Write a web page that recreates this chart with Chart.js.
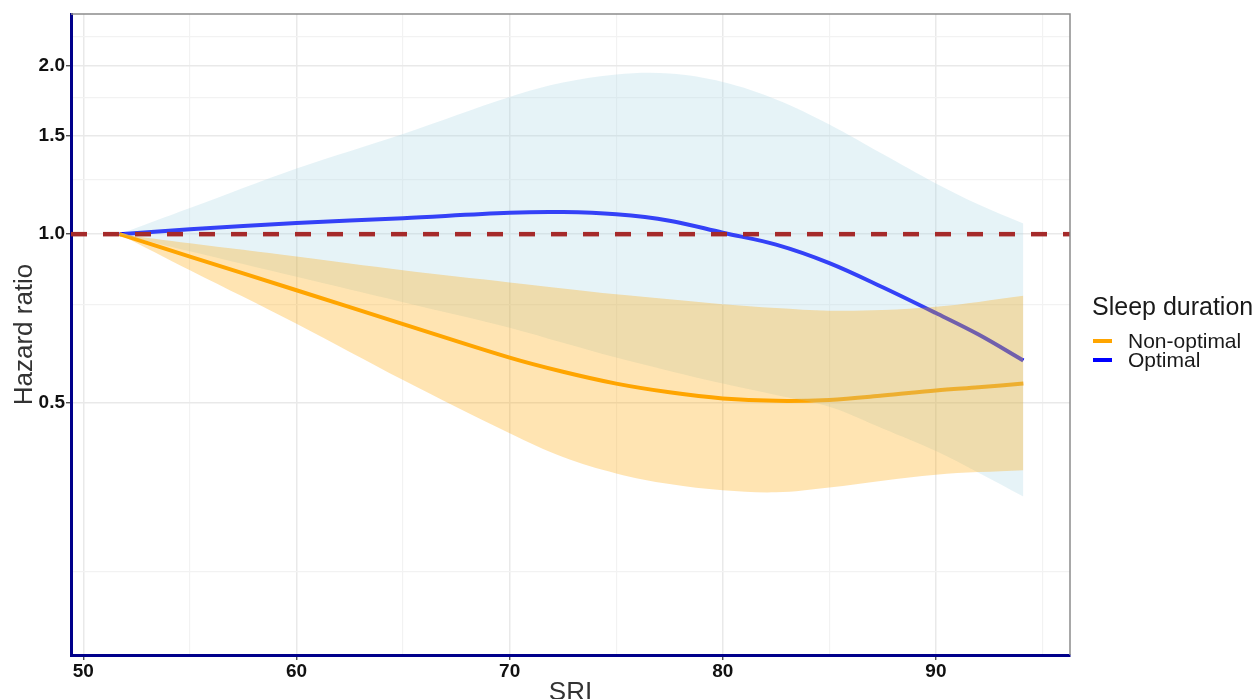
<!DOCTYPE html>
<html>
<head>
<meta charset="utf-8">
<script src="https://cdn.jsdelivr.net/npm/chart.js@4.4.1/dist/chart.umd.min.js"></script>
<style>
  html, body { margin: 0; padding: 0; background: #ffffff; overflow: hidden; }
  #wrap { width: 1257px; height: 699px; position: relative; }
</style>
</head>
<body>
<div id="wrap"><canvas id="c" width="1257" height="699"></canvas></div>
<script>
// SRI grid shared by every curve
const sri = [51.7, 55, 60, 65, 70, 72.5, 75, 77.5, 80, 82.5, 85, 87.5, 90, 92, 94.1];

// Optimal sleep duration: hazard ratio and 95% CI
const optimalHR    = [1.000, 1.020, 1.047, 1.068, 1.092, 1.095, 1.085, 1.057, 1.006, 0.958, 0.888, 0.804, 0.723, 0.662, 0.595];
const optimalUpper = [1.000, 1.113, 1.310, 1.510, 1.758, 1.865, 1.928, 1.935, 1.869, 1.740, 1.570, 1.390, 1.232, 1.130, 1.045];
const optimalLower = [1.000, 0.932, 0.839, 0.756, 0.681, 0.640, 0.602, 0.570, 0.541, 0.516, 0.492, 0.450, 0.410, 0.375, 0.340];

// Non-optimal sleep duration: hazard ratio and 95% CI
const nonOptHR     = [1.000, 0.912, 0.794, 0.691, 0.602, 0.568, 0.541, 0.522, 0.509, 0.504, 0.506, 0.515, 0.526, 0.533, 0.541];
const nonOptUpper  = [1.000, 0.963, 0.912, 0.862, 0.820, 0.800, 0.781, 0.765, 0.750, 0.738, 0.730, 0.732, 0.742, 0.757, 0.776];
const nonOptLower  = [1.000, 0.862, 0.692, 0.549, 0.441, 0.400, 0.374, 0.358, 0.349, 0.346, 0.353, 0.363, 0.372, 0.376, 0.379];

// Reference line HR = 1 across the whole x range
const refX = [49.42, 96.29];
const refY = [1, 1];

// Axis breaks
const xMajorTicks = [50, 60, 70, 80, 90];
const xMinorTicks = [55, 65, 75, 85, 95];
const yMajorTicks = [0.5, 1.0, 1.5, 2.0];
const yMinorTicks = [0.25, 0.75, 1.25, 1.75, 2.25];

const seriesNames = ['Non-optimal', 'Optimal'];
const legendTitle = 'Sleep duration';

const ORANGE = '#ffa500';
const BLUE = '#0000ff';
const FONT = '"Liberation Sans", Arial, Helvetica, sans-serif';
const SMOOTH = 0.35;

const pts = (xs, ys) => xs.map((x, i) => ({ x: x, y: ys[i] }));
const near = (list, v) => list.some(t => Math.abs(t - v) < 1e-6);

const bandBase = {
  pointRadius: 0,
  borderWidth: 0,
  borderColor: 'rgba(0,0,0,0)',
  tension: SMOOTH
};

const datasets = [
  { // 0 reference line (top-most)
    label: 'ref', data: pts(refX, refY), order: 1,
    borderColor: '#a52a2a', borderWidth: 4.5, borderDash: [16, 16],
    borderCapStyle: 'butt', pointRadius: 0, fill: false, tension: 0
  },
  { // 1 non-optimal band
    ...bandBase, label: 'nonopt-upper', data: pts(sri, nonOptUpper), order: 3,
    fill: '+1', backgroundColor: 'rgba(255,165,0,0.3)'
  },
  { // 2
    ...bandBase, label: 'nonopt-lower', data: pts(sri, nonOptLower), order: 3, fill: false
  },
  { // 3 optimal band
    ...bandBase, label: 'opt-upper', data: pts(sri, optimalUpper), order: 4,
    fill: '+1', backgroundColor: 'rgba(173,216,230,0.3)'
  },
  { // 4
    ...bandBase, label: 'opt-lower', data: pts(sri, optimalLower), order: 4, fill: false
  },
  { // 5 non-optimal curve
    label: seriesNames[0], data: pts(sri, nonOptHR), order: 5,
    borderColor: ORANGE, borderWidth: 4, pointRadius: 0, fill: false,
    tension: SMOOTH
  },
  { // 6 optimal curve
    label: seriesNames[1], data: pts(sri, optimalHR), order: 6,
    borderColor: BLUE, borderWidth: 4, pointRadius: 0, fill: false,
    tension: SMOOTH
  }
];

// Panel frame, axis titles and legend
const decorations = {
  id: 'decorations',
  afterDraw(chart) {
    const { ctx, chartArea: a } = chart;
    ctx.save();
    // grey frame on top and right
    ctx.strokeStyle = '#8c8c8c';
    ctx.lineWidth = 1.5;
    ctx.beginPath();
    ctx.moveTo(a.left, a.top);
    ctx.lineTo(a.right, a.top);
    ctx.lineTo(a.right, a.bottom);
    ctx.stroke();

    // axis titles
    ctx.fillStyle = '#333333';
    ctx.font = '26px ' + FONT;
    ctx.textAlign = 'center';
    ctx.textBaseline = 'alphabetic';
    ctx.fillText('SRI', (a.left + a.right) / 2, 700);
    ctx.save();
    ctx.translate(32, (a.top + a.bottom) / 2);
    ctx.rotate(-Math.PI / 2);
    ctx.fillText('Hazard ratio', 0, 0);
    ctx.restore();

    // legend
    ctx.textAlign = 'left';
    ctx.textBaseline = 'middle';
    ctx.fillStyle = '#1a1a1a';
    ctx.font = '25px ' + FONT;
    ctx.fillText(legendTitle, 1092, 308);
    const keys = [[ORANGE, 341], [BLUE, 360]];
    ctx.font = '21px ' + FONT;
    keys.forEach((k, i) => {
      ctx.strokeStyle = k[0];
      ctx.lineWidth = 4;
      ctx.beginPath();
      ctx.moveTo(1093, k[1]);
      ctx.lineTo(1112, k[1]);
      ctx.stroke();
      ctx.fillStyle = '#1a1a1a';
      ctx.fillText(seriesNames[i], 1128, k[1] + 1);
    });
    ctx.restore();
  }
};

new Chart(document.getElementById('c'), {
  type: 'line',
  data: { datasets: datasets },
  plugins: [decorations],
  options: {
    responsive: false,
    animation: false,
    devicePixelRatio: 1,
    layout: { padding: { left: 0, right: 187, top: 14, bottom: 0 } },
    plugins: { legend: { display: false }, tooltip: { enabled: false } },
    scales: {
      x: {
        type: 'linear',
        min: 49.42,
        max: 96.29,
        afterFit(scale) { scale.height = 44; },
        afterBuildTicks(scale) {
          scale.ticks = xMajorTicks.concat(xMinorTicks).sort((p, q) => p - q).map(v => ({ value: v }));
        },
        border: { display: true, color: '#00008b', width: 3 },
        grid: {
          color: c => near(xMajorTicks, c.tick.value) ? '#e9e9e9' : '#f2f2f2',
          lineWidth: c => near(xMajorTicks, c.tick.value) ? 1.5 : 1.2,
          tickColor: c => near(xMajorTicks, c.tick.value) ? '#333333' : 'rgba(0,0,0,0)',
          tickLength: 5,
          tickWidth: 1.2
        },
        ticks: {
          autoSkip: false,
          maxRotation: 0,
          padding: 0,
          color: '#111111',
          font: { family: FONT, size: 19, weight: 'bold' },
          callback: v => near(xMajorTicks, v) ? String(v) : ''
        }
      },
      y: {
        type: 'logarithmic',
        min: 0.1773,
        max: 2.472,
        afterFit(scale) { scale.width = 71; },
        afterBuildTicks(scale) {
          scale.ticks = yMajorTicks.concat(yMinorTicks).sort((p, q) => p - q).map(v => ({ value: v }));
        },
        border: { display: true, color: '#00008b', width: 3 },
        grid: {
          color: c => near(yMajorTicks, c.tick.value) ? '#e9e9e9' : '#f2f2f2',
          lineWidth: c => near(yMajorTicks, c.tick.value) ? 1.5 : 1.2,
          tickColor: c => near(yMajorTicks, c.tick.value) ? '#333333' : 'rgba(0,0,0,0)',
          tickLength: 5,
          tickWidth: 1.2
        },
        ticks: {
          autoSkip: false,
          padding: 1,
          color: '#111111',
          font: { family: FONT, size: 19, weight: 'bold' },
          callback: v => near(yMajorTicks, v) ? Number(v).toFixed(1) : ''
        }
      }
    }
  }
});
</script>
</body>
</html>
